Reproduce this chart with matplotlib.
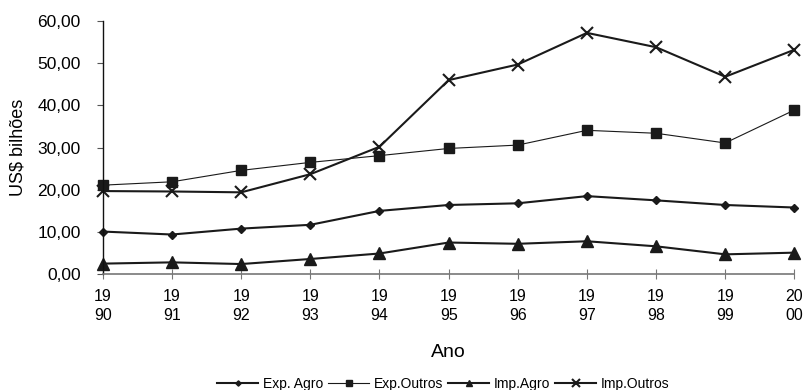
import matplotlib
matplotlib.use('Agg')
import matplotlib.pyplot as plt
from matplotlib.ticker import FuncFormatter

plt.rcParams['font.family'] = ['Liberation Sans', 'DejaVu Sans']

anos = [1990, 1991, 1992, 1993, 1994, 1995, 1996, 1997, 1998, 1999, 2000]
rotulos_x = [f"{str(a)[:2]}\n{str(a)[2:]}" for a in anos]

exp_agro = [10.1, 9.4, 10.8, 11.7, 15.0, 16.4, 16.8, 18.5, 17.5, 16.4, 15.8]
exp_outros = [21.1, 21.9, 24.6, 26.5, 28.1, 29.8, 30.6, 34.1, 33.4, 31.1, 38.9]
imp_agro = [2.5, 2.8, 2.4, 3.6, 4.9, 7.5, 7.2, 7.8, 6.6, 4.7, 5.1]
imp_outros = [19.7, 19.6, 19.4, 23.7, 30.2, 46.0, 49.7, 57.2, 53.8, 46.8, 53.2]

fig = plt.figure(figsize=(8.04, 3.9), dpi=100)
ax = fig.add_axes([0.128, 0.297, 0.860, 0.649])

cor = '#1a1a1a'
ax.plot(anos, exp_agro, color=cor, lw=1.5, marker='D', ms=4.5, label='Exp. Agro', clip_on=False)
ax.plot(anos, exp_outros, color=cor, lw=0.8, marker='s', ms=7.5, label='Exp.Outros', clip_on=False)
ax.plot(anos, imp_agro, color=cor, lw=1.5, marker='^', ms=8, label='Imp.Agro', clip_on=False)
ax.plot(anos, imp_outros, color=cor, lw=1.5, marker='x', ms=9, mew=1.5, label='Imp.Outros', clip_on=False)

ax.set_xlim(1990, 2000)
ax.set_ylim(0, 60)
ax.set_yticks(range(0, 61, 10))
ax.yaxis.set_major_formatter(FuncFormatter(lambda v, p: f"{v:.2f}".replace('.', ',')))
ax.set_xticks(anos)
ax.set_xticklabels(rotulos_x, linespacing=1.35)

for s in ['top', 'right']:
    ax.spines[s].set_visible(False)
ax.spines['left'].set_color('#111111')
ax.spines['left'].set_linewidth(1.0)
ax.spines['bottom'].set_color('#777777')
ax.spines['bottom'].set_linewidth(1.2)

ax.tick_params(axis='y', direction='out', length=4, color='#555555', labelsize=12.5, pad=12)
ax.tick_params(axis='x', direction='inout', length=7, color='#777777', labelsize=11.5, pad=7)

ax.set_xlabel('Ano', fontsize=14, labelpad=15)
ax.set_ylabel('US$ bilhões', fontsize=13, labelpad=8)

fig.legend(loc='center', bbox_to_anchor=(443 / 804, 1 - 384 / 390), ncol=4, frameon=False,
           fontsize=10, handlelength=3.0, handletextpad=0.3, columnspacing=0.35,
           markerscale=0.6)

fig.savefig('out.png', dpi=100)
